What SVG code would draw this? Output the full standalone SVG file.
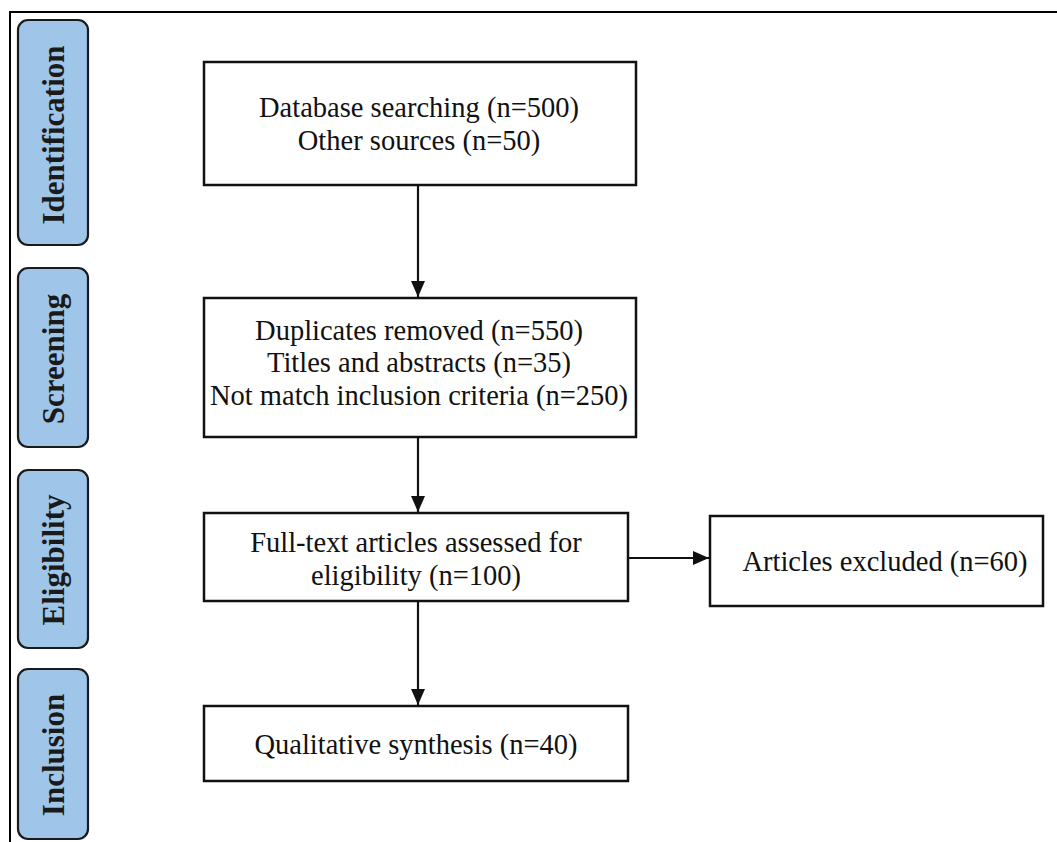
<svg xmlns="http://www.w3.org/2000/svg" width="1057" height="842" viewBox="0 0 1057 842">
<defs>
<style>
.frame{fill:none;stroke:#000;stroke-width:2}
.box{fill:#fff;stroke:#111;stroke-width:2.5}
.stage{fill:#9fc5e8;stroke:#1a1a1a;stroke-width:2.2}
.t{font-family:"Liberation Serif","Times New Roman",serif;font-size:28.5px;fill:#111;text-anchor:middle}
.st{font-family:"Liberation Serif","Times New Roman",serif;font-size:31px;font-weight:bold;fill:#1a1a1a;text-anchor:middle}
.conn{fill:none;stroke:#111;stroke-width:2.2}
</style>
<marker id="arr" viewBox="0 0 16 14" refX="16" refY="7" markerWidth="16" markerHeight="14" markerUnits="userSpaceOnUse" orient="auto">
<path d="M0,0 L16,7 L0,14 Z" fill="#111"/>
</marker>
</defs>
<rect width="1057" height="842" fill="#fff"/>
<path class="frame" d="M10,842 L10,12 L1057,12"/>

<g id="stage-identification">
<rect class="stage" x="18" y="20" width="70" height="225" rx="10"/>
<text class="st" transform="translate(64,135) rotate(-90)">Identification</text>
</g>
<g id="stage-screening">
<rect class="stage" x="18" y="268" width="70" height="179" rx="10"/>
<text class="st" transform="translate(64,359) rotate(-90)">Screening</text>
</g>
<g id="stage-eligibility">
<rect class="stage" x="18" y="470" width="70" height="178" rx="10"/>
<text class="st" transform="translate(64,560) rotate(-90)">Eligibility</text>
</g>
<g id="stage-inclusion">
<rect class="stage" x="18" y="669" width="70" height="170" rx="10"/>
<text class="st" transform="translate(64,755) rotate(-90)">Inclusion</text>
</g>

<g id="node-identification">
<rect class="box" x="204" y="62" width="432" height="123"/>
<text class="t" x="419" y="117">Database searching (n=500)</text>
<text class="t" x="419" y="150">Other sources (n=50)</text>
</g>
<g id="node-screening">
<rect class="box" x="204" y="298" width="432" height="139"/>
<text class="t" x="419" y="340">Duplicates removed (n=550)</text>
<text class="t" x="419" y="372">Titles and abstracts (n=35)</text>
<text class="t" x="419" y="405">Not match inclusion criteria (n=250)</text>
</g>
<g id="node-eligibility">
<rect class="box" x="204" y="513" width="424" height="88"/>
<text class="t" x="416" y="552">Full-text articles assessed for</text>
<text class="t" x="416" y="585">eligibility (n=100)</text>
</g>
<g id="node-excluded">
<rect class="box" x="710" y="516" width="333" height="90"/>
<text class="t" x="885" y="571">Articles excluded (n=60)</text>
</g>
<g id="node-inclusion">
<rect class="box" x="204" y="706" width="424" height="75"/>
<text class="t" x="416" y="754">Qualitative synthesis (n=40)</text>
</g>

<g id="connectors">
<line class="conn" x1="418" y1="185" x2="418" y2="297" marker-end="url(#arr)"/>
<line class="conn" x1="418" y1="437" x2="418" y2="512" marker-end="url(#arr)"/>
<line class="conn" x1="418" y1="601" x2="418" y2="705" marker-end="url(#arr)"/>
<line class="conn" x1="628" y1="558" x2="709" y2="558" marker-end="url(#arr)"/>
</g>
</svg>
